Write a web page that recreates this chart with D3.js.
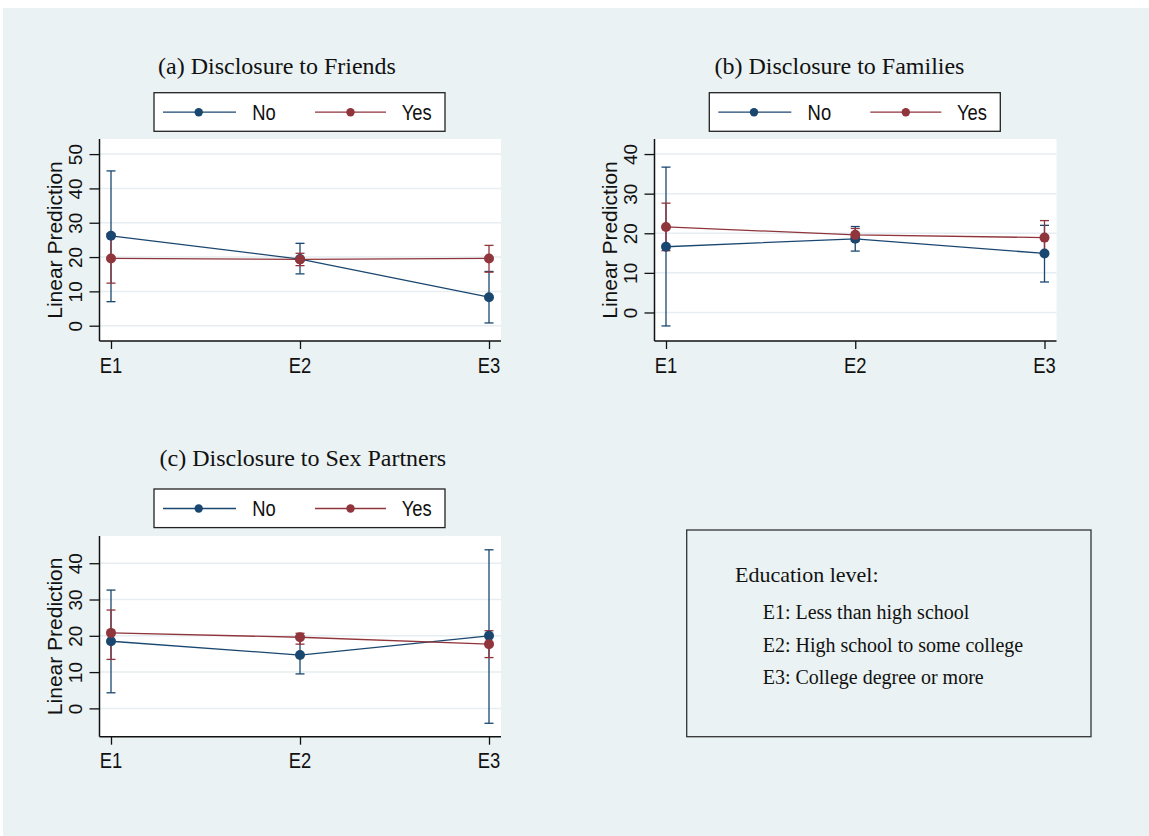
<!DOCTYPE html>
<html>
<head>
<meta charset="utf-8">
<script src="https://cdn.jsdelivr.net/npm/d3@7"></script>
<style>
  html, body { margin: 0; padding: 0; background: #ffffff; }
  svg { display: block; }
</style>
</head>
<body>
<svg id="chart" width="1149" height="836"></svg>
<script>
// ---------------- data ----------------
const categories = ["E1", "E2", "E3"];
const seriesNames = ["No", "Yes"];

const friendsNo    = [26.2, 19.4, 8.3];
const friendsNoLo  = [7.0, 15.1, 0.8];
const friendsNoHi  = [45.1, 24.0, 15.8];
const friendsYes   = [19.6, 19.3, 19.6];
const friendsYesLo = [12.4, 17.5, 15.6];
const friendsYesHi = [26.8, 21.1, 23.4];

const familiesNo    = [16.6, 18.6, 14.9];
const familiesNoLo  = [-3.4, 15.5, 7.7];
const familiesNoHi  = [36.7, 21.7, 22.0];
const familiesYes   = [21.6, 19.6, 18.9];
const familiesYesLo = [15.6, 18.0, 14.7];
const familiesYesHi = [27.6, 21.2, 23.2];

const partnersNo    = [18.5, 14.7, 20.0];
const partnersNoLo  = [4.3, 9.5, -4.1];
const partnersNoHi  = [32.6, 19.9, 43.7];
const partnersYes   = [20.8, 19.6, 17.7];
const partnersYesLo = [13.5, 17.7, 14.0];
const partnersYesHi = [27.1, 20.7, 21.4];

const ticksFriends  = [0, 10, 20, 30, 40, 50];
const ticksFamilies = [0, 10, 20, 30, 40];
const ticksPartners = [0, 10, 20, 30, 40];

const panelTitles = ["(a) Disclosure to Friends", "(b) Disclosure to Families", "(c) Disclosure to Sex Partners"];
const yAxisTitle = "Linear Prediction";
const noteTitle = "Education level:";
const noteLines = ["E1: Less than high school", "E2: High school to some college", "E3: College degree or more"];

// ---------------- styles ----------------
const BG = "#eaf2f3";
const GRID = "#e6eef1";
const BLUE = "#1a476f";
const RED = "#90353b";
const SANS = "'Liberation Sans', Arial, sans-serif";
const SERIF = "'Liberation Serif', 'Times New Roman', serif";

const svg = d3.select("#chart");
svg.append("rect").attr("x", 3).attr("y", 8).attr("width", 1146).attr("height", 828).attr("fill", BG);

const panels = [
  { title: panelTitles[0], titleX: 158, titleY: 74, legX: 154, legY: 92.7,
    plot: { x: 99.5, y: 139, w: 401.5, h: 202 }, yDomain: [-4.46, 54.4], ticks: ticksFriends,
    series: [
      { name: seriesNames[0], color: BLUE, m: friendsNo, lo: friendsNoLo, hi: friendsNoHi },
      { name: seriesNames[1], color: RED, m: friendsYes, lo: friendsYesLo, hi: friendsYesHi } ] },
  { title: panelTitles[1], titleX: 714.5, titleY: 74, legX: 709.3, legY: 92.7,
    plot: { x: 654.5, y: 139, w: 402, h: 202 }, yDomain: [-7.2, 43.8], ticks: ticksFamilies,
    series: [
      { name: seriesNames[0], color: BLUE, m: familiesNo, lo: familiesNoLo, hi: familiesNoHi },
      { name: seriesNames[1], color: RED, m: familiesYes, lo: familiesYesLo, hi: familiesYesHi } ] },
  { title: panelTitles[2], titleX: 159.5, titleY: 466, legX: 154, legY: 489,
    plot: { x: 99.5, y: 536, w: 401.5, h: 200.7 }, yDomain: [-7.8, 47.5], ticks: ticksPartners,
    series: [
      { name: seriesNames[0], color: BLUE, m: partnersNo, lo: partnersNoLo, hi: partnersNoHi },
      { name: seriesNames[1], color: RED, m: partnersYes, lo: partnersYesLo, hi: partnersYesHi } ] }
];

function hText(g, x, y, txt, opts) {
  return g.append("text")
    .attr("transform", `translate(${x},${y}) scale(1,1.18)`)
    .attr("font-family", SANS).attr("font-size", opts.size || 18.4)
    .attr("text-anchor", opts.anchor || "start")
    .attr("fill", "#111").text(txt);
}

panels.forEach(p => {
  const g = svg.append("g");
  // title
  g.append("text").attr("x", p.titleX).attr("y", p.titleY)
    .attr("font-family", SERIF).attr("font-size", 24).attr("fill", "#111").text(p.title);

  // legend
  const lg = g.append("g").attr("transform", `translate(${p.legX},${p.legY})`);
  lg.append("rect").attr("x", 0).attr("y", 0).attr("width", 291).attr("height", 38.6)
    .attr("fill", "#ffffff").attr("stroke", "#222").attr("stroke-width", 1.3);
  const legItems = [
    { s: p.series[0], x0: 9, x1: 82, mx: 44.7, tx: 98.3 },
    { s: p.series[1], x0: 161, x1: 232, mx: 196.5, tx: 247.7 } ];
  legItems.forEach(it => {
    lg.append("line").attr("x1", it.x0).attr("x2", it.x1).attr("y1", 19.5).attr("y2", 19.5)
      .attr("stroke", it.s.color).attr("stroke-width", 1.3);
    lg.append("circle").attr("cx", it.mx).attr("cy", 19.5).attr("r", 4.2).attr("fill", it.s.color);
    hText(lg, it.tx, 27.3, it.s.name, {});
  });

  // plot area
  const P = p.plot;
  const pg = g.append("g").attr("transform", `translate(${P.x},${P.y})`);
  pg.append("rect").attr("width", P.w).attr("height", P.h).attr("fill", "#ffffff");
  const x = d3.scalePoint().domain(categories).range([11.5, P.w - 12]);
  const y = d3.scaleLinear().domain(p.yDomain).range([P.h, 0]);

  // grid
  pg.selectAll(".grid").data(p.ticks).enter().append("line")
    .attr("x1", 0).attr("x2", P.w).attr("y1", d => y(d)).attr("y2", d => y(d))
    .attr("stroke", GRID).attr("stroke-width", 1.5);

  // axes
  const yAxis = d3.axisLeft(y).tickValues(p.ticks).tickSize(10).tickFormat(d3.format("d"));
  const ya = pg.append("g").call(yAxis);
  ya.select(".domain").remove();
  ya.selectAll(".tick line").attr("stroke", "#111").attr("stroke-width", 1.3);
  ya.selectAll(".tick text")
    .attr("font-family", SANS).attr("font-size", 19).attr("fill", "#111")
    .attr("x", 0).attr("dy", 0).attr("y", 0)
    .attr("text-anchor", "middle")
    .attr("transform", "translate(-17.5,0) rotate(-90)");
  pg.append("line").attr("x1", 0).attr("x2", 0).attr("y1", 0).attr("y2", P.h)
    .attr("stroke", "#111").attr("stroke-width", 1.5);

  const xAxis = d3.axisBottom(x).tickSize(8).tickFormat("");
  const xa = pg.append("g").attr("transform", `translate(0,${P.h})`).call(xAxis);
  xa.select(".domain").remove();
  xa.selectAll(".tick line").attr("stroke", "#111").attr("stroke-width", 1.3);
  pg.append("line").attr("x1", 0).attr("x2", P.w).attr("y1", P.h).attr("y2", P.h)
    .attr("stroke", "#111").attr("stroke-width", 1.5);
  categories.forEach(c => hText(pg, x(c), P.h + 31.5, c, { anchor: "middle" }));

  // y axis title
  pg.append("text").attr("transform", `translate(-38,${P.h / 2}) rotate(-90)`)
    .attr("text-anchor", "middle").attr("font-family", SANS).attr("font-size", 21)
    .attr("fill", "#111").text(yAxisTitle);

  // error bars
  p.series.forEach(s => {
    const eb = pg.append("g");
    categories.forEach((c, i) => {
      eb.append("line").attr("x1", x(c)).attr("x2", x(c)).attr("y1", y(s.lo[i])).attr("y2", y(s.hi[i]))
        .attr("stroke", s.color).attr("stroke-width", 1.3);
      [s.lo[i], s.hi[i]].forEach(v => {
        eb.append("line").attr("x1", x(c) - 4.5).attr("x2", x(c) + 4.5).attr("y1", y(v)).attr("y2", y(v))
          .attr("stroke", s.color).attr("stroke-width", 1.3);
      });
    });
  });
  // lines
  const line = d3.line().x((d, i) => x(categories[i])).y(d => y(d));
  p.series.forEach(s => {
    pg.append("path").datum(s.m).attr("d", line).attr("fill", "none")
      .attr("stroke", s.color).attr("stroke-width", 1.3);
  });
  // markers
  p.series.forEach(s => {
    pg.selectAll(null).data(s.m).enter().append("circle")
      .attr("cx", (d, i) => x(categories[i])).attr("cy", d => y(d)).attr("r", 5)
      .attr("fill", s.color);
  });
});

// note box
const nb = svg.append("g");
nb.append("rect").attr("x", 686.7).attr("y", 530).attr("width", 404.3).attr("height", 206.7)
  .attr("fill", "none").attr("stroke", "#333").attr("stroke-width", 1.3);
nb.append("text").attr("x", 735).attr("y", 581.7).attr("font-family", SERIF).attr("font-size", 22)
  .attr("fill", "#111").text(noteTitle);
const noteY = [619, 651.5, 684];
noteLines.forEach((t, i) => {
  nb.append("text").attr("x", 762.7).attr("y", noteY[i]).attr("font-family", SERIF).attr("font-size", 20)
    .attr("fill", "#111").text(t);
});
</script>
</body>
</html>
